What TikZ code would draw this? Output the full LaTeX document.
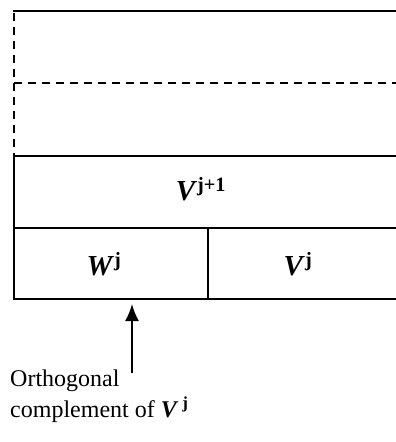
\documentclass[tikz,border=0pt]{standalone}
\usepackage{fontspec}
\setmainfont{Liberation Serif}
\usetikzlibrary{arrows.meta}
\begin{document}
\begin{tikzpicture}[x=1pt,y=-1pt,
  solidline/.style={line width=2.4pt},
  dashline/.style={line width=2.4pt,dash pattern=on 8pt off 6pt},
  sym/.style={font=\fontsize{29}{32}\selectfont\bfseries},
  caption/.style={font=\fontsize{24}{31}\selectfont,align=left,anchor=north west,inner sep=0pt}]
\useasboundingbox (0,0) rectangle (396,442);
% upper dashed region
\draw[solidline] (13,11) -- (396,11);
\draw[dashline] (14,13) -- (14,156);
\draw[dashline] (14,83) -- (396,83);
% V^{j+1} box and lower row
\draw[solidline] (396,156) -- (14,156) -- (14,299) -- (396,299);
\draw[solidline] (14,228) -- (396,228);
\draw[solidline] (208,228) -- (208,299);
% labels
\node[sym] (vj1) at (201,189) {\textit{V}\textsuperscript{j+1}};
\node[sym] (wj) at (104,264) {\textit{W}\textsuperscript{j}};
\node[sym] (vj) at (298,264) {\textit{V}\textsuperscript{j}};
\coordinate (tip) at (132,304);
\node[caption] (cap) at (10,370) {Orthogonal\\complement of \textbf{\textit{V}\,\textsuperscript{j}}};
\draw[line width=1.8pt,-{Latex[length=17pt,width=14pt]}] (132,373) -- (tip);
\end{tikzpicture}
\end{document}
